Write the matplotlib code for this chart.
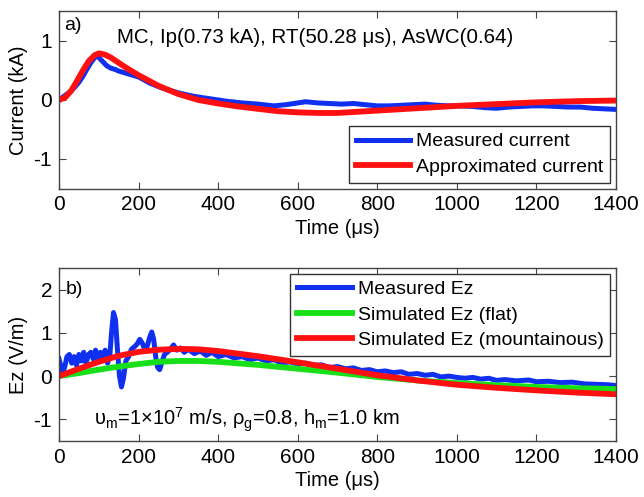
import matplotlib
matplotlib.use("Agg")
import matplotlib.pyplot as plt

plt.rcParams['font.family'] = ['Liberation Sans', 'DejaVu Sans']
plt.rcParams['mathtext.fontset'] = 'custom'
plt.rcParams['mathtext.rm'] = 'Liberation Sans'
plt.rcParams['mathtext.it'] = 'Liberation Sans'
plt.rcParams['axes.unicode_minus'] = False

# ---- Panel a) current ----
t_meas_i = [0, 10, 20, 30, 40, 50, 60, 70, 80, 90, 95, 100, 110, 120, 130, 140, 150, 170,
            200, 230, 260, 300, 340, 380, 420, 460, 500, 540, 570, 600, 620, 650, 680,
            710, 740, 770, 800, 830, 860, 890, 920, 950, 980, 1010, 1040, 1070, 1100,
            1130, 1160, 1190, 1220, 1250, 1280, 1310, 1340, 1370, 1400]
i_meas = [0.0, 0.05, 0.1, 0.15, 0.22, 0.3, 0.4, 0.52, 0.63, 0.72, 0.75, 0.72, 0.65, 0.58,
          0.54, 0.52, 0.49, 0.45, 0.39, 0.28, 0.2, 0.12, 0.06, 0.02, -0.02, -0.05, -0.07,
          -0.1, -0.08, -0.05, -0.03, -0.05, -0.06, -0.07, -0.06, -0.08, -0.1, -0.1,
          -0.09, -0.08, -0.07, -0.09, -0.1, -0.1, -0.11, -0.13, -0.14, -0.12, -0.11,
          -0.1, -0.1, -0.11, -0.12, -0.12, -0.14, -0.15, -0.16]
t_appr_i = [0, 15, 30, 45, 60, 75, 90, 100, 115, 130, 150, 175, 200, 250, 300, 350, 400,
            450, 500, 550, 600, 650, 700, 750, 800, 850, 900, 1000, 1100, 1200, 1300, 1400]
i_appr = [0.0, 0.04, 0.15, 0.32, 0.5, 0.66, 0.76, 0.79, 0.77, 0.72, 0.63, 0.52, 0.42,
          0.24, 0.1, 0.0, -0.06, -0.11, -0.15, -0.19, -0.21, -0.22, -0.22, -0.2,
          -0.18, -0.16, -0.14, -0.1, -0.07, -0.04, -0.02, -0.01]

# ---- Panel b) Ez ----
t_meas_e = [0, 4, 8, 14, 20, 26, 32, 38, 44, 50, 56, 62, 68, 74, 80, 86, 92, 98, 104, 110,
            116, 122, 128, 132, 137, 142, 147, 152, 157, 162, 168, 175, 182, 190, 197, 203,
            210, 216, 222, 228, 233, 238, 243, 248, 253, 258, 265, 272, 280, 288, 296, 305,
            315, 325, 340, 355, 370, 385, 400, 420, 440, 460, 480, 500, 520, 540, 560, 580,
            600, 620, 640, 660, 680, 700, 720, 740, 760, 780, 800, 820, 840, 860, 880, 900,
            920, 940, 960, 980, 1000, 1020, 1040, 1060, 1080, 1100, 1120, 1150, 1180, 1200,
            1230, 1260, 1290, 1320, 1350, 1380, 1400]
ez_meas = [0.4, 0.25, 0.05, 0.2, 0.45, 0.5, 0.3, 0.45, 0.25, 0.5, 0.35, 0.55, 0.3, 0.5,
           0.55, 0.4, 0.6, 0.35, 0.55, 0.45, 0.6, 0.3, 0.5, 1.0, 1.47, 1.3, 0.6, 0.0,
           -0.25, -0.05, 0.35, 0.45, 0.62, 0.68, 0.75, 0.85, 0.75, 0.6, 0.7, 0.9, 1.02,
           0.85, 0.45, 0.2, 0.15, 0.3, 0.5, 0.55, 0.62, 0.72, 0.6, 0.65, 0.55, 0.62, 0.52,
           0.58, 0.48, 0.55, 0.45, 0.5, 0.42, 0.45, 0.38, 0.42, 0.35, 0.38, 0.3, 0.33,
           0.28, 0.3, 0.24, 0.26, 0.2, 0.22, 0.17, 0.19, 0.13, 0.15, 0.1, 0.12, 0.08, 0.1,
           0.04, 0.06, 0.02, 0.04, -0.02, 0.0, -0.03, -0.05, -0.03, -0.07, -0.05, -0.1,
           -0.08, -0.11, -0.09, -0.13, -0.12, -0.15, -0.14, -0.18, -0.19, -0.2, -0.22]
t_sim_e = [0, 50, 100, 150, 200, 250, 300, 350, 400, 500, 600, 700, 800, 900, 1000, 1100,
           1200, 1300, 1400]
ez_flat = [0.0, 0.07, 0.15, 0.22, 0.28, 0.33, 0.35, 0.35, 0.33, 0.26, 0.17, 0.08, -0.02,
           -0.1, -0.16, -0.21, -0.25, -0.28, -0.3]
ez_mount = [0.0, 0.17, 0.33, 0.47, 0.56, 0.61, 0.63, 0.62, 0.58, 0.46, 0.32, 0.17, 0.02,
            -0.1, -0.2, -0.27, -0.33, -0.38, -0.42]

xticks = [0, 200, 400, 600, 800, 1000, 1200, 1400]

BLUE = '#1030f0'
RED = '#ff1010'
GREEN = '#18e018'
TFS = 15
LFS = 14.5

fig = plt.figure(figsize=(6.44, 4.97), dpi=100)
ax1 = fig.add_axes([0.0916, 0.6207, 0.865, 0.3563])
ax2 = fig.add_axes([0.0916, 0.1127, 0.865, 0.3481])

def style(ax):
    ax.set_xlim(0, 1400)
    ax.set_xticks(xticks)
    ax.tick_params(direction='in', top=True, right=True, labelsize=TFS, length=5,
                   color='#444444', pad=5)
    for s in ax.spines.values():
        s.set_color('#444444')
        s.set_linewidth(1.0)
    ax.set_xlabel('Time (μs)', fontsize=LFS, labelpad=3)

def legend(ax, loc):
    leg = ax.legend(loc=loc, fontsize=14, handlelength=2.8, handletextpad=0.3,
                    borderaxespad=0.3, labelspacing=0.4, fancybox=False, framealpha=1,
                    borderpad=0.35)
    leg.get_frame().set_edgecolor('#333333')
    leg.get_frame().set_linewidth(1.0)
    return leg

ax1.plot(t_meas_i, i_meas, color=BLUE, lw=3.6, label='Measured current')
ax1.plot(t_appr_i, i_appr, color=RED, lw=4.2, label='Approximated current')
style(ax1)
ax1.set_ylim(-1.5, 1.5)
ax1.set_yticks([-1, 0, 1])
ax1.set_ylabel('Current (kA)', fontsize=LFS, labelpad=4)
ax1.text(0.01, 0.97, 'a)', transform=ax1.transAxes, fontsize=14, va='top', ha='left')
ax1.text(0.46, 0.855, 'MC, Ip(0.73 kA), RT(50.28 μs), AsWC(0.64)', transform=ax1.transAxes,
         fontsize=14.8, va='center', ha='center')
legend(ax1, 'lower right')

ax2.plot(t_meas_e, ez_meas, color=BLUE, lw=3.6, label='Measured Ez')
ax2.plot(t_sim_e, ez_flat, color=GREEN, lw=4.2, label='Simulated Ez (flat)')
ax2.plot(t_sim_e, ez_mount, color=RED, lw=4.2, label='Simulated Ez (mountainous)')
style(ax2)
ax2.set_ylim(-1.5, 2.5)
ax2.set_yticks([-1, 0, 1, 2])
ax2.set_ylabel('Ez (V/m)', fontsize=LFS, labelpad=4)
ax2.text(0.012, 0.875, 'b)', transform=ax2.transAxes, fontsize=14, va='center', ha='left')
ax2.text(0.062, 0.125,
         r'υ$_\mathregular{m}$=1×10$^\mathregular{7}$ m/s, ρ$_\mathregular{g}$=0.8, h$_\mathregular{m}$=1.0 km',
         transform=ax2.transAxes, fontsize=14.5, va='center', ha='left')
legend(ax2, 'upper right')

fig.savefig('out.png', dpi=100)
